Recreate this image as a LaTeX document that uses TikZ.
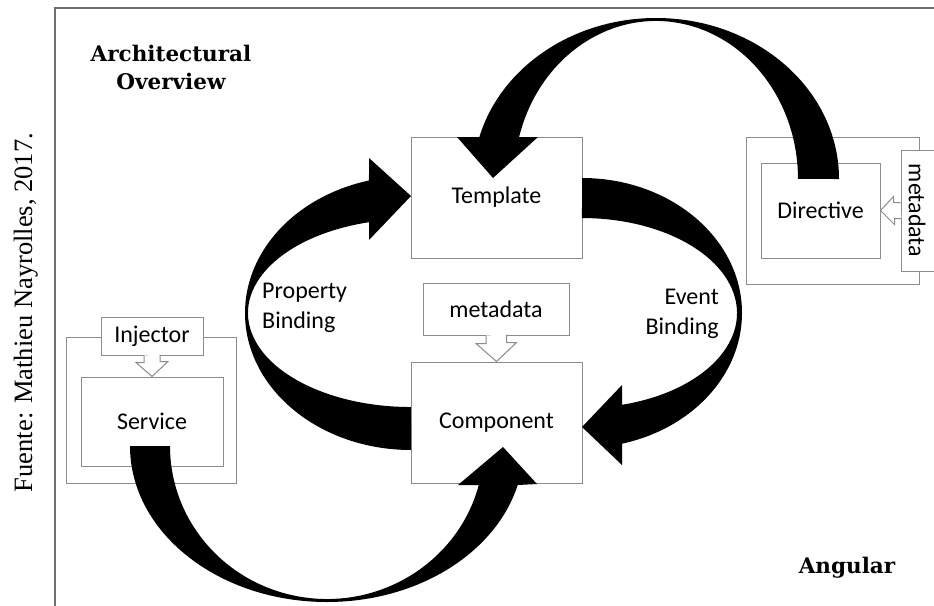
\documentclass[tikz,border=0pt]{standalone}
\usepackage{fontspec}
\newfontfamily\carlito{Carlito}
\newfontfamily\timesrm{Liberation Serif}
\newfontfamily\titlefont{DejaVu Serif}
\usetikzlibrary{calc}
\definecolor{framegray}{RGB}{110,110,110}
\definecolor{boxgray}{RGB}{140,140,140}
\begin{document}
\begin{tikzpicture}[x=1pt,y=1pt,yscale=-1,
  box/.style={draw=boxgray, line width=1pt, fill=white, inner sep=0pt,
    font=\carlito\fontsize{24}{29}\selectfont},
  lbl/.style={inner sep=0pt, font=\carlito\fontsize{24}{30}\selectfont},
  hollow/.style={draw=boxgray, line width=1pt, fill=white, line join=miter},
  title/.style={inner sep=0pt, font=\titlefont\bfseries\fontsize{21.5}{28}\selectfont}]
\useasboundingbox (0,0) rectangle (934,605);
\fill[white] (0,0) rectangle (934,605);
\clip (0,0) rectangle (934,605);

% outer frame (open to the right and bottom)
\draw[framegray, line width=2pt] (55,612) -- (55,8) -- (940,8);

% source note
\node[rotate=90, anchor=base, inner sep=0pt, font=\timesrm\fontsize{26.5}{30}\selectfont]
  (source) at (32,312.5) {Fuente: Mathieu Nayrolles, 2017.};

% titles
\node[title, align=center] (arch) at (171,67) {Architectural\\Overview};
\node[title] (angular) at (847,568) {Angular};

% boxes
\node[box, minimum width=171pt, minimum height=121pt] (template) at (496.5,197.5) {Template};
\node[box, minimum width=171pt, minimum height=121pt] (component) at (496.5,422.5) {Component};
\node[box, minimum width=146pt, minimum height=52pt] (meta) at (496,309) {metadata};

\node[box, minimum width=170pt, minimum height=146pt] (svcouter) at (151,410) {};
\node[box, minimum width=102pt, minimum height=38pt] (injector) at (152,336) {Injector};
\node[box, minimum width=142pt, minimum height=89pt] (service) at (152,421.5) {Service};

\node[box, minimum width=173pt, minimum height=147pt] (dirouter) at (832.5,210.5) {};
\node[box, minimum width=119pt, minimum height=95pt] (directive) at (820.5,210.5) {Directive};
\node[box, minimum width=49pt, minimum height=121pt] (dmeta) at (925.5,210.5) {};
\node[lbl, rotate=-90] (dmetatext) at (917,210.5) {metadata};

% hollow injection arrows
\draw[hollow] ($(meta.south)+(-10,0)$) -- ++(0,8) -- ++(-10,0) -- (component.north)
  -- ++(20,-19) -- ++(-10,0) -- ++(0,-8);
\draw[hollow] ($(injector.south)+(-8,0)$) -- ++(0,7) -- ++(-8,0) -- (service.north)
  -- ++(16,-15) -- ++(-8,0) -- ++(0,-7);
\draw[hollow] ($(dmeta.west)+(0,-8)$) -- ++(-7,0) -- ++(0,-6) -- (directive.east)
  -- ++(14,14) -- ++(0,-6) -- ++(7,0);

% curved block arrows
% property binding: component -> template
\fill[black] (411,450) arc[start angle=90, end angle=255.34, x radius=166, y radius=137]
  -- (369,158) -- (411,196) -- (369,240) -- (369,222.2)
  arc[start angle=255.07, end angle=90, x radius=163, y radius=94] -- cycle;
% event binding: template -> component
\fill[black] (582,178) arc[start angle=-90, end angle=75.52, x radius=160, y radius=135]
  -- (622,465) -- (582,427) -- (622,385) -- (622,404.8)
  arc[start angle=75.04, end angle=-90, x radius=155, y radius=95] -- cycle;
% service -> component
\fill[black] (130,446) arc[start angle=180, end angle=14.48, x radius=197, y radius=156]
  -- (537,484) -- (503,447) -- (458,485) -- (478.8,485)
  arc[start angle=14.77, end angle=180, x radius=157, y radius=153] -- cycle;
% directive -> template
\fill[black] (839,179) arc[start angle=0, end angle=-164.88, x radius=183, y radius=161]
  -- (457,137) -- (493,178) -- (538,137) -- (519.1,137)
  arc[start angle=-164.59, end angle=0, x radius=142, y radius=158] -- cycle;

% binding labels
\node[lbl, align=left, anchor=north west] (propbind) at (262,282.5) {Property\\Binding};
\node[lbl, align=right, anchor=north east] (eventbind) at (719,288.5) {Event\\Binding};
\end{tikzpicture}
\end{document}
